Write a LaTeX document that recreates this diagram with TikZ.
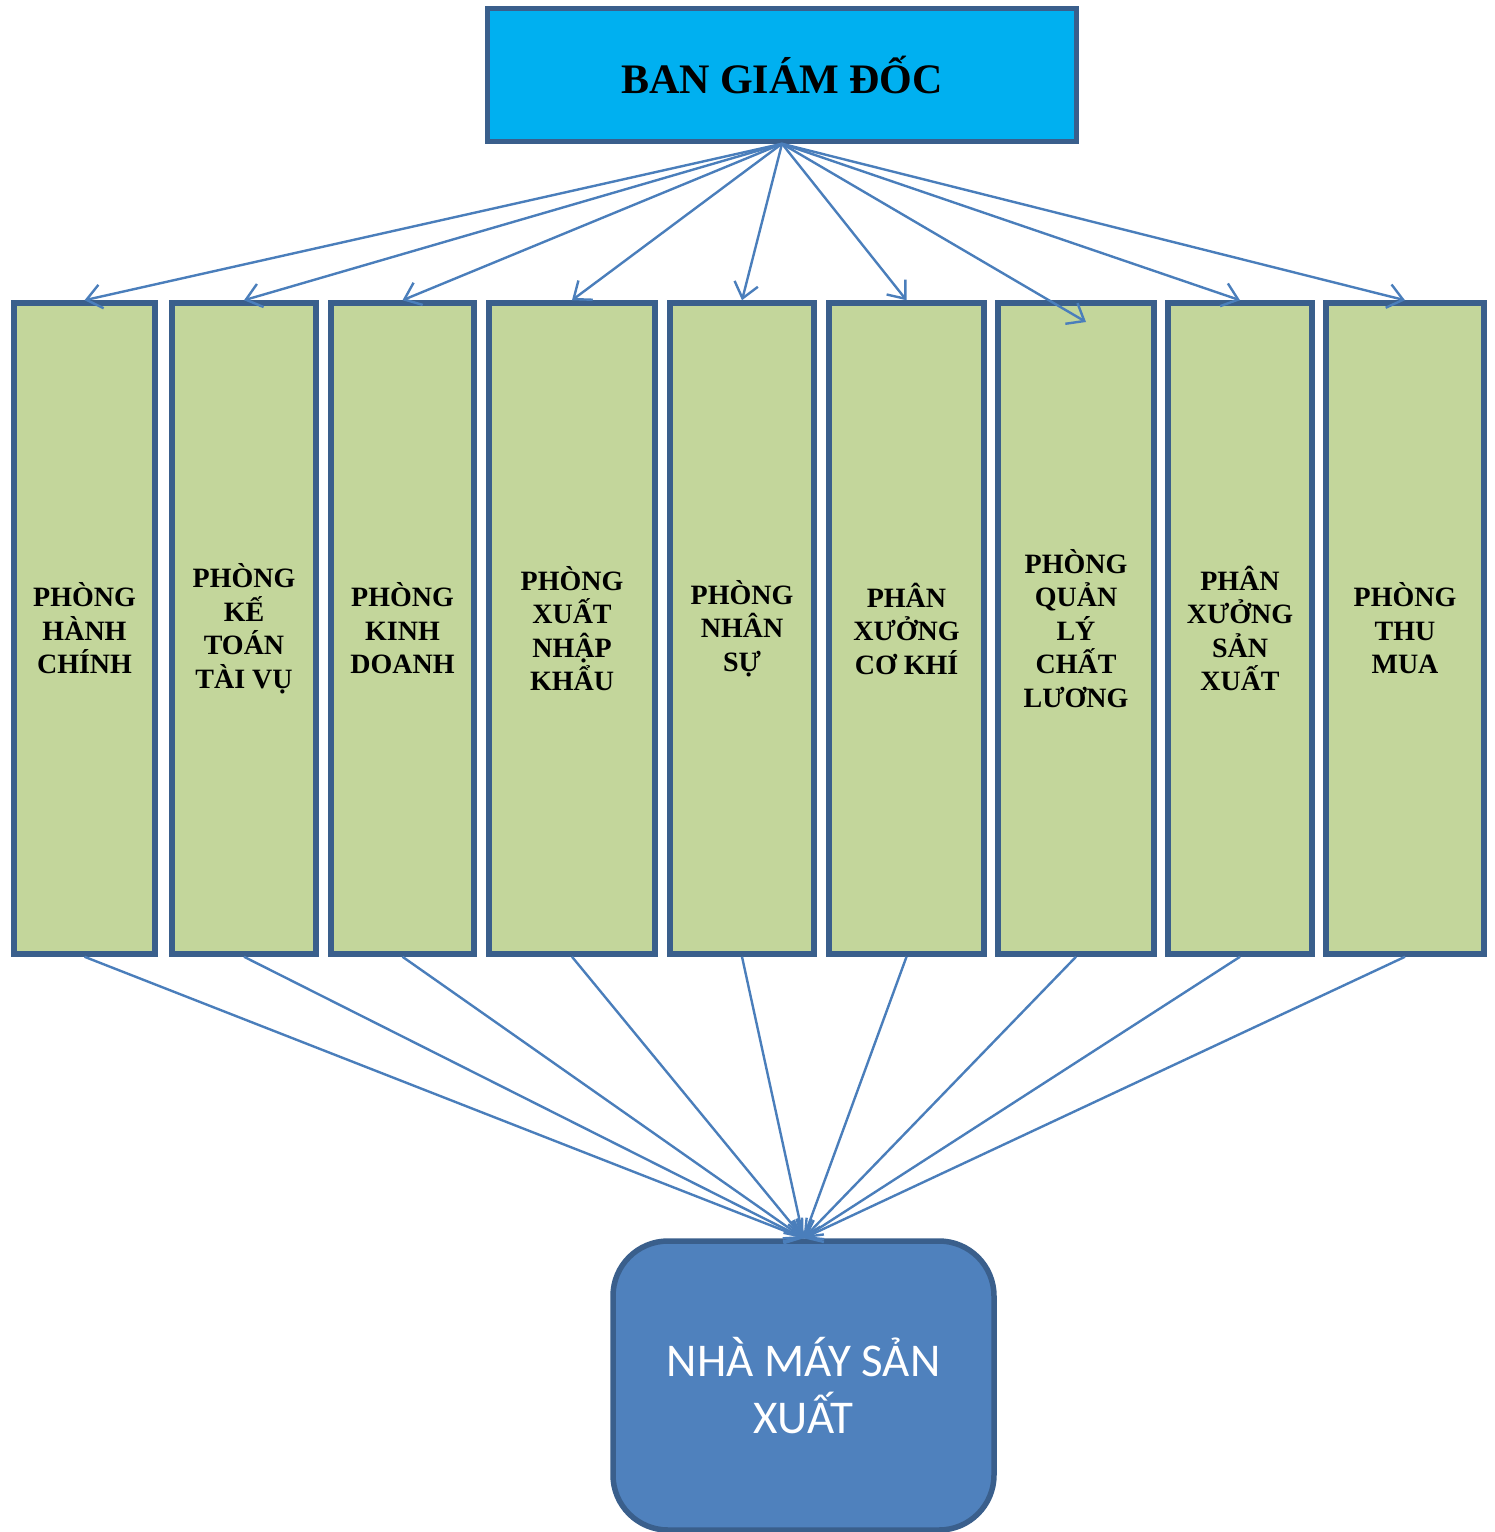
\documentclass[tikz,border=0pt]{standalone}
\usepackage{fontspec}
\setmainfont{Liberation Serif}
\newfontfamily\calib{Carlito}
\usetikzlibrary{arrows.meta}
\definecolor{topfill}{HTML}{00B0F0}
\definecolor{edge}{HTML}{3A5F8C}
\definecolor{greenfill}{HTML}{C3D69B}
\definecolor{arrowc}{HTML}{4A7EBB}
\definecolor{botfill}{HTML}{4F81BD}
\tikzset{
  topbox/.style={draw=edge, line width=4.5bp, fill=topfill, minimum width=589bp, minimum height=133bp, inner sep=0pt,
    font=\fontsize{42bp}{50bp}\selectfont\bfseries},
  deptbox/.style={draw=edge, line width=5.5bp, fill=greenfill, minimum height=651bp, inner sep=0pt, align=center,
    font=\fontsize{28bp}{33.5bp}\selectfont\bfseries},
  botbox/.style={draw=edge, line width=5.5bp, fill=botfill, rounded corners=55bp, minimum width=381bp, minimum height=289bp,
    inner sep=0pt, align=center, text=white, font=\calib\fontsize{47bp}{57bp}\selectfont},
  arr/.style={draw=arrowc, line width=2.4bp, -{Straight Barb[length=15bp,width=24bp,line width=2.4bp]}}
}
\begin{document}
\begin{tikzpicture}[x=1bp,y=-1bp]
\useasboundingbox (0,0) rectangle (1495,1532);
\node[topbox] (top) at (782,75) {BAN GIÁM ĐỐC};
\node[deptbox, minimum width=141bp] (b1) at (84.5,628.5) {PHÒNG\\HÀNH\\CHÍNH};
\node[deptbox, minimum width=144bp] (b2) at (244,628.5) {PHÒNG\\KẾ\\TOÁN\\TÀI VỤ};
\node[deptbox, minimum width=143bp] (b3) at (402.5,628.5) {PHÒNG\\KINH\\DOANH};
\node[deptbox, minimum width=166bp] (b4) at (572,628.5) {PHÒNG\\XUẤT\\NHẬP\\KHẨU};
\node[deptbox, minimum width=144bp] (b5) at (742,628.5) {PHÒNG\\NHÂN\\SỰ};
\node[deptbox, minimum width=155bp] (b6) at (906.5,628.5) {PHÂN\\XƯỞNG\\CƠ KHÍ};
\node[deptbox, minimum width=156bp] (b7) at (1076,628.5) {PHÒNG\\QUẢN\\LÝ\\CHẤT\\LƯƠNG};
\node[deptbox, minimum width=144bp] (b8) at (1240,628.5) {PHÂN\\XƯỞNG\\SẢN\\XUẤT};
\node[deptbox, minimum width=158bp] (b9) at (1405,628.5) {PHÒNG\\THU\\MUA};
\node[botbox] (bot) at (803.5,1385.5) {NHÀ MÁY SẢN\\XUẤT};
\coordinate (t7) at (1086,322);
\foreach \i in {1,2,3,4,5,6,8,9} {
  \draw[arr] (top.south) -- (b\i.north);
}
\draw[arr] (top.south) -- (t7);
\foreach \i in {1,...,9} {
  \draw[arr] (b\i.south) -- (bot.north);
}
\end{tikzpicture}
\end{document}
